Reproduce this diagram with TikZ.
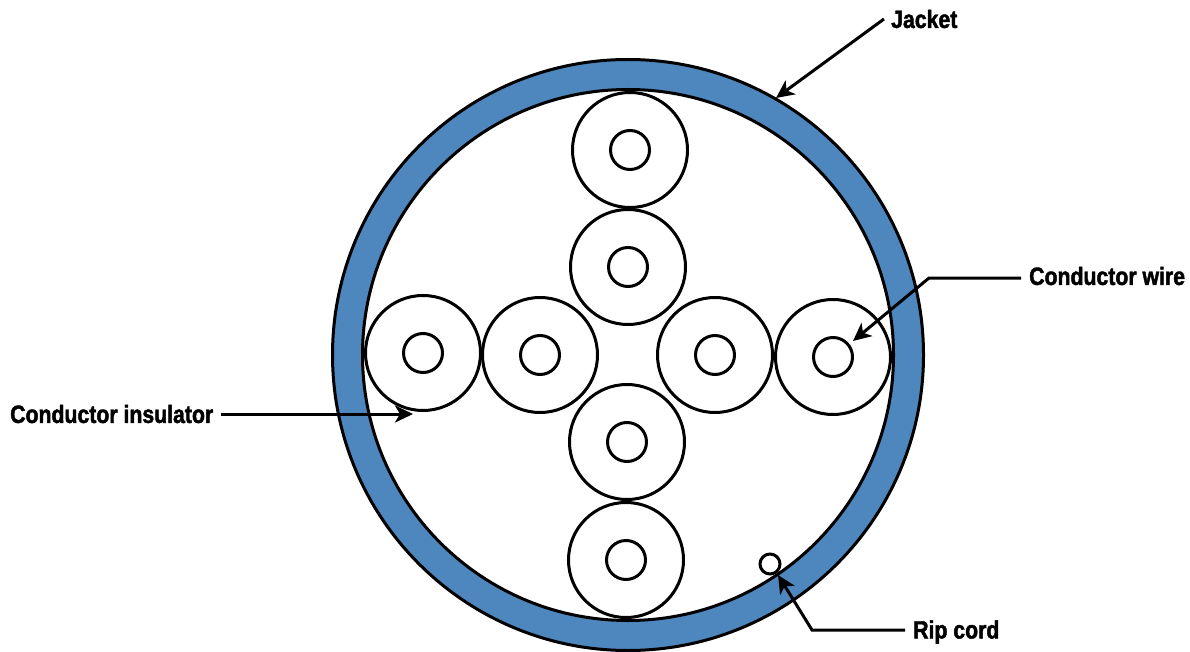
\documentclass[tikz,border=0pt]{standalone}
\usepackage{fontspec}
\setmainfont{Liberation Sans}[BoldFont={Liberation Sans Bold},BoldFeatures={FakeStretch=0.85,FakeBold=1.8}]
\usetikzlibrary{arrows.meta,positioning}
\definecolor{jacketblue}{HTML}{4D87BD}

\begin{document}
\begin{tikzpicture}[
    x=1pt, y=-1pt,
    ring/.style={draw, circle, line width=3pt, inner sep=0pt},
    insulator/.style={ring, fill=white, minimum size=115pt},
    wire/.style={ring, fill=white, minimum size=39pt},
    lbl/.style={font=\bfseries\fontsize{25}{28}\selectfont, inner sep=0pt, text=black},
    arr/.style={-{Stealth[length=18pt,width=17pt,inset=5pt]}, line width=3pt}
]
\useasboundingbox (0,0) rectangle (1190,652);

\node[ring, fill=jacketblue, minimum size=591pt] (jacket) at (628,355) {};
\node[ring, fill=white, minimum size=531pt] (bore) at (628,355) {};

\node[insulator] (insA) at (630,150) {};
\node[insulator] (insB) at (628,267) {};
\node[insulator] (insC) at (423,353) {};
\node[insulator] (insD) at (540,355) {};
\node[insulator] (insE) at (715,355) {};
\node[insulator] (insF) at (833,357) {};
\node[insulator] (insG) at (627,442) {};
\node[insulator] (insH) at (626,560) {};

\node[wire] (wireA) at (insA) {};
\node[wire] (wireB) at (insB) {};
\node[wire] (wireC) at (insC) {};
\node[wire] (wireD) at (insD) {};
\node[wire] (wireE) at (insE) {};
\node[wire] (wireF) at (insF) {};
\node[wire] (wireG) at (insG) {};
\node[wire] (wireH) at (insH) {};

\node[ring, fill=white, minimum size=20pt] (ripcord) at (770,564) {};

\node[lbl, anchor=west] (jacketlbl) at (891,19) {Jacket};
\node[lbl, anchor=west] (wirelbl) at (1029,276) {Conductor wire};
\node[lbl, anchor=west] (insullbl) at (10,414) {Conductor insulator};
\node[lbl, anchor=west] (riplbl) at (913,632) {Rip cord};

\coordinate (jacketend) at (776,98);
\coordinate (wireknee) at (929,278);
\coordinate (wireend) at (853,341);
\coordinate (insulstart) at (221,414);
\coordinate (insulend) at (413,414);
\coordinate (ripknee) at (812,630);
\coordinate (ripend) at (778,575);

\draw[arr] (jacketlbl.west)+(-7,0) -- (jacketend);
\draw[arr] (wirelbl.west)+(-8,2) -- (wireknee) -- (wireend);
\draw[arr] (insulstart) -- (insulend);
\draw[arr] (riplbl.west)+(-8,-2) -- (ripknee) -- (ripend);
\end{tikzpicture}
\end{document}
